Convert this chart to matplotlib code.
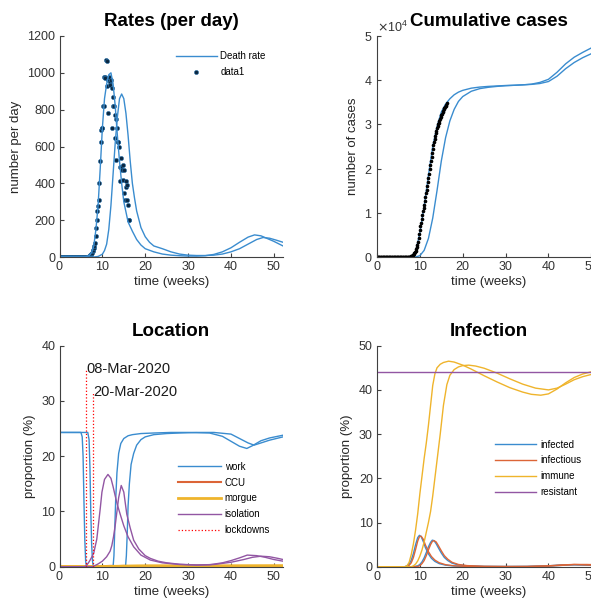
import numpy as np
import matplotlib
matplotlib.use('Agg')
import matplotlib.pyplot as plt
from matplotlib.ticker import ScalarFormatter

plt.rcParams['font.family'] = ['Liberation Sans', 'DejaVu Sans']

# colours (matlab-ish defaults, a bit lighter like the screenshot)
BLUE = '#3a8ccf'
ORANGE = '#dc6537'
YELLOW = '#efb42c'
PURPLE = '#9256a3'
AXC = '#404040'

T_END = 52.14

# ---- observed daily deaths, day 0..114 ----
deaths_daily = [0] * 45 + [
    0, 1, 2, 4, 6, 9, 13, 18, 22, 30,
    38, 50, 60, 75, 115, 160, 200, 250, 275, 400,
    310, 520, 626, 690, 700, 700, 820, 820, 980, 975,
    970, 1072, 1065, 930, 780, 962, 975, 950, 935, 960,
    700, 915, 870, 820, 820, 645, 770, 526, 750, 700,
    626, 626, 600, 490, 410, 490, 540, 470, 500, 420,
    470, 345, 310, 410, 380, 390, 310, 280, 200, 200]

# ---- observed cumulative deaths, day 0..114 ----
deaths_cum = [0] * 50 + [
    20, 35, 55, 80, 110, 150, 200, 275, 350, 465,
    625, 825, 1075, 1350, 1750, 2200, 2800, 3500, 4300, 5200,
    6100, 7000, 7800, 8700, 9500, 10300, 11000, 11800, 12700, 13600,
    14400, 15200, 16000, 16900, 17800, 18800, 19800, 20800, 21700, 22600,
    23500, 24400, 25300, 26000, 26700, 27400, 28000, 28600, 29100, 29600,
    30000, 30400, 30850, 31300, 31700, 32050, 32400, 32750, 33100, 33400,
    33700, 33950, 34200, 34500, 34770]

days_obs = np.arange(len(deaths_daily)) / 7.0

# ---- model: death rate ----
rate_t_a = [0, 5, 6, 7, 7.5, 8, 8.5, 9, 9.5, 10, 10.5, 11, 11.5, 12, 12.5, 13, 13.5, 14, 14.5, 15,
            16, 17, 18, 19, 20, 22, 24, 26, 28, 30, 32, 34, 36, 38, 40, 42, 44, 45.5, 47, 48, 50, T_END]
rate_a = [0, 0, 1, 8, 25, 60, 150, 280, 480, 700, 860, 940, 990, 1000, 940, 820, 660, 520, 400, 300,
          190, 140, 95, 65, 45, 28, 16, 10, 7, 5, 5, 7, 14, 28, 50, 80, 108, 120, 115, 105, 85, 60]
rate_t_b = [0, 8, 9, 10, 10.5, 11, 11.5, 12, 12.5, 13, 13.5, 14, 14.5, 15, 15.5, 16, 16.5, 17, 17.5, 18,
            19, 20, 21, 22, 24, 26, 28, 30, 32, 34, 36, 38, 40, 42, 44, 46, 47.5, 49, 50.5, T_END]
rate_b = [0, 0, 3, 15, 35, 70, 150, 280, 450, 620, 760, 860, 885, 860, 780, 660, 520, 400, 320, 250,
          160, 110, 80, 60, 45, 28, 16, 10, 8, 8, 10, 16, 28, 45, 70, 95, 106, 102, 92, 80]

# ---- model: cumulative ----
cum_t_a = [0, 7, 8, 9, 10, 11, 12, 13, 14, 15, 16, 17, 18, 19, 20, 22, 24, 26, 28, 30,
           32, 34, 36, 38, 40, 42, 44, 46, 48, 50, T_END]
cum_a = [0, 0, 100, 1200, 5500, 11500, 18500, 25000, 29500, 32800, 34600, 35800, 36700, 37300, 37700,
         38200, 38450, 38600, 38700, 38800, 38850, 38950, 39100, 39500, 40200, 41800, 43700, 45200,
         46300, 47300, 48200]
cum_t_b = [0, 9, 10, 11, 12, 13, 14, 15, 16, 17, 18, 19, 20, 22, 24, 26, 28, 30, 32, 34,
           36, 38, 40, 42, 44, 46, 48, 50, T_END]
cum_b = [0, 0, 300, 1500, 4200, 8800, 15000, 21700, 27000, 30800, 33400, 35200, 36300, 37500, 38100,
         38400, 38600, 38750, 38850, 38950, 39050, 39250, 39700, 40900, 42600, 44000, 45100, 46000, 46900]

# ---- location (%) ----
work_t_a = [0, 5.0, 5.3, 5.5, 5.7, 5.9, 6.1, 6.3, 12.5, 12.7, 12.9, 13.1, 13.4, 13.8, 14.3, 15, 16, 17,
            19, 22, 26, 30, 35, 38, 40, 42, 43.7, 45, 47, 49, T_END]
work_a = [24.3, 24.3, 23.5, 20, 12, 5, 1, 0, 0, 2, 7, 12, 17, 20.5, 22.3, 23.2, 23.7, 23.9,
          24.1, 24.2, 24.3, 24.3, 24.2, 23.6, 22.7, 21.8, 21.4, 21.9, 22.8, 23.3, 23.8]
work_t_b = [0, 6.6, 6.9, 7.1, 7.3, 7.5, 7.7, 7.9, 15.4, 15.6, 15.8, 16.0, 16.3, 16.7, 17.3, 18, 19, 20,
            22, 25, 28, 32, 36, 40, 42, 44, 45.4, 47, 49, T_END]
work_b = [24.3, 24.3, 23, 18, 10, 4, 1, 0, 0, 2, 6, 11, 15, 18.5, 20.5, 22, 23, 23.5,
          23.9, 24.1, 24.2, 24.3, 24.3, 24.0, 23.2, 22.4, 22.0, 22.4, 22.9, 23.5]

ccu_t_a = [0, 9, 10, 11, 12, 13, 14, 16, 18, T_END]
ccu_a = [0, 0, 0.05, 0.12, 0.15, 0.12, 0.08, 0.03, 0.01, 0.01]
ccu_t_b = [0, 12, 13, 14, 15, 16, 17, 19, 21, T_END]
ccu_b = [0, 0, 0.05, 0.12, 0.15, 0.12, 0.08, 0.03, 0.01, 0.01]

morgue_t_a = [0, 9, 11, 13, 15, 17, 20, 40, 45, T_END]
morgue_a = [0, 0, 0.03, 0.07, 0.1, 0.12, 0.13, 0.13, 0.14, 0.15]
morgue_t_b = [0, 12, 14, 16, 18, 20, 23, 40, 47, T_END]
morgue_b = [0, 0, 0.03, 0.07, 0.1, 0.12, 0.13, 0.13, 0.14, 0.15]

iso_t_a = [0, 5.8, 6.3, 7, 7.5, 8, 8.7, 9.5, 9.9, 10.5, 11.3, 12, 12.5, 13, 13.5, 14.2, 15, 16, 17.3,
           19, 21.2, 24, 28, 32, 35, 38, 40, 42, 43.8, 46, 48, 50, T_END]
iso_a = [0, 0, 0.2, 1, 1.7, 2.5, 5, 10.5, 13.5, 15.8, 16.7, 16.0, 14.5, 12.8, 11.2, 9.4, 7.4, 5.4, 3.6,
         2.1, 1.2, 0.7, 0.4, 0.3, 0.35, 0.7, 1.1, 1.6, 2.1, 2.0, 1.7, 1.3, 1.0]
iso_t_b = [0, 7.5, 8, 9, 10, 11, 11.8, 12.2, 12.6, 13, 13.4, 13.8, 14.4, 15, 15.7, 16.5, 17.3, 18.5,
           20, 21.2, 23, 25, 28, 32, 36, 40, 43, 45, 47, 49, 51, T_END]
iso_b = [0, 0, 0.1, 0.5, 1.0, 1.8, 2.8, 3.8, 5.4, 7.5, 10.0, 12.5, 14.7, 13.5, 9.5, 7.0, 4.8, 3.2,
         2.0, 1.5, 1.0, 0.7, 0.45, 0.3, 0.4, 0.8, 1.3, 1.7, 1.9, 1.8, 1.5, 1.3]

lockdown_weeks = [6.2, 7.9]
lockdown_tops = [35.7, 31.6]
lockdown_labels = ['08-Mar-2020', '20-Mar-2020']

# ---- infection (%) ----
inf_t_a = [0, 6.5, 7, 7.5, 8, 8.5, 9, 9.5, 9.9, 10.3, 10.8, 11.3, 12, 12.7, 13.5, 14.5, 16, 18, 20,
           25, 30, 35, 40, 43, 46, 49, T_END]
infected_a = [0, 0, 0.2, 0.6, 1.5, 3.0, 5.0, 6.6, 7.1, 6.8, 5.7, 4.3, 2.9, 1.9, 1.2, 0.7, 0.35, 0.15,
              0.08, 0.03, 0.03, 0.05, 0.2, 0.4, 0.45, 0.35, 0.25]
infectious_a = [0, 0, 0.05, 0.3, 0.9, 2.1, 3.9, 5.8, 6.8, 6.9, 6.2, 4.9, 3.4, 2.3, 1.5, 0.9, 0.45, 0.2,
                0.1, 0.04, 0.03, 0.05, 0.2, 0.4, 0.5, 0.4, 0.3]
inf_t_b = [0, 8.5, 9.5, 10, 10.5, 11, 11.5, 12, 12.5, 12.9, 13.3, 13.8, 14.3, 15, 15.7, 16.5, 17.5, 19,
           21, 25, 30, 35, 40, 43, 46, 49, T_END]
infected_b = [0, 0, 0.2, 0.5, 1.1, 2.0, 3.2, 4.5, 5.5, 6.0, 5.9, 5.2, 4.3, 3.1, 2.1, 1.4, 0.8, 0.4,
              0.2, 0.06, 0.03, 0.04, 0.15, 0.3, 0.45, 0.45, 0.35]
infectious_b = [0, 0, 0.05, 0.25, 0.7, 1.4, 2.5, 3.8, 5.0, 5.7, 5.9, 5.6, 4.8, 3.6, 2.5, 1.7, 1.0, 0.5,
                0.25, 0.08, 0.03, 0.04, 0.15, 0.3, 0.5, 0.5, 0.4]

imm_t_a = [0, 6.5, 7, 7.5, 8, 8.5, 9, 9.5, 10, 10.5, 11, 11.5, 12, 12.5, 13, 13.5, 14, 14.75, 15.5,
           16.7, 18, 20, 22, 25, 28, 31, 34, 36, 38.2, 40, 42, 44, 46, 48, 50, T_END]
immune_a = [0, 0, 0.2, 1, 2.8, 5.2, 8.3, 12, 16.5, 20.5, 24.5, 28, 32, 36.5, 41, 43.6, 45, 45.8, 46.2,
            46.5, 46.3, 45.6, 44.7, 43.2, 41.8, 40.5, 39.5, 39.0, 38.8, 39.1, 40.2, 41.6, 42.8, 43.6,
            44.1, 44.3]
imm_t_b = [0, 8, 8.5, 9, 9.5, 10, 10.5, 11, 11.5, 12, 12.5, 13, 13.5, 14, 14.75, 15.5, 16.3, 17, 18,
           19, 20, 21.4, 23, 25, 28, 31, 34, 37, 40, 42, 44, 46, 48, 50, T_END]
immune_b = [0, 0, 0.2, 0.6, 1.3, 2.4, 3.8, 5.6, 7.8, 10, 12.5, 16, 20, 24, 30, 36.5, 41.2, 43.3, 44.6,
            45.2, 45.5, 45.6, 45.4, 44.9, 43.8, 42.5, 41.3, 40.4, 40.0, 40.4, 41.3, 42.3, 43.0, 43.5,
            43.9]

res_t = [0, T_END]
resistant = [44.1, 44.1]


def style_axes(ax, ylim, yticks):
    ax.set_xlim(0, T_END)
    ax.set_ylim(*ylim)
    ax.set_xticks([0, 10, 20, 30, 40, 50])
    ax.set_yticks(yticks)
    for s in ['top', 'right']:
        ax.spines[s].set_visible(False)
    for s in ['left', 'bottom']:
        ax.spines[s].set_color(AXC)
        ax.spines[s].set_linewidth(0.8)
    ax.tick_params(direction='in', length=3, width=0.8, colors=AXC, labelsize=9,
                   labelcolor='#333333', pad=3)
    ax.set_xlabel('time (weeks)', fontsize=9.5, color='#262626', labelpad=2)


fig = plt.figure(figsize=(5.91, 6.07), dpi=100)
W = 223.5 / 591
H = 221 / 607
ax1 = fig.add_axes([59.5 / 591, (607 - 257) / 607, W, H])
ax2 = fig.add_axes([377 / 591, (607 - 257) / 607, W, H])
ax3 = fig.add_axes([59.5 / 591, (607 - 566.7) / 607, W, H])
ax4 = fig.add_axes([377 / 591, (607 - 566.7) / 607, W, H])

# rates
ax1.plot(days_obs, deaths_daily, 'o', ms=3.0, mfc='#0b2740', mec='#2b74ad', mew=0.4, label='data1')
ax1.plot(rate_t_a, rate_a, color=BLUE, lw=1.0, label='Death rate')
ax1.plot(rate_t_b, rate_b, color=BLUE, lw=1.0)
style_axes(ax1, (0, 1200), range(0, 1201, 200))
ax1.set_ylabel('number per day', fontsize=9.5, color='#262626')
ax1.set_title('Rates (per day)', fontsize=13.5, fontweight='bold', pad=7)
h, l = ax1.get_legend_handles_labels()
ax1.legend(h[::-1], l[::-1], loc='upper left', bbox_to_anchor=(0.52, 0.93), frameon=False, fontsize=7,
           handlelength=4.2, handletextpad=0.4, labelspacing=0.6, borderpad=0, borderaxespad=0)

# cumulative
ax2.plot(cum_t_a, cum_a, color=BLUE, lw=1.0)
ax2.plot(cum_t_b, cum_b, color=BLUE, lw=1.0)
ax2.plot(days_obs, deaths_cum, '.', color='black', ms=3.2)
style_axes(ax2, (0, 50000), range(0, 50001, 10000))
fmt = ScalarFormatter(useMathText=True)
fmt.set_powerlimits((0, 0))
ax2.yaxis.set_major_formatter(fmt)
ax2.yaxis.get_offset_text().set_fontsize(9)
ax2.yaxis.get_offset_text().set_color('#333333')
ax2.set_ylabel('number of cases', fontsize=9.5, color='#262626')
ax2.set_title('Cumulative cases', fontsize=13.5, fontweight='bold', pad=7)

# location
ax3.plot(work_t_a, work_a, color=BLUE, lw=1.0, label='work')
ax3.plot(work_t_b, work_b, color=BLUE, lw=1.0)
ax3.plot(ccu_t_a, ccu_a, color=ORANGE, lw=1.5, label='CCU')
ax3.plot(ccu_t_b, ccu_b, color=ORANGE, lw=1.5)
ax3.plot(morgue_t_a, morgue_a, color=YELLOW, lw=2.0, label='morgue')
ax3.plot(morgue_t_b, morgue_b, color=YELLOW, lw=2.0)
ax3.plot(iso_t_a, iso_a, color=PURPLE, lw=1.0, label='isolation')
ax3.plot(iso_t_b, iso_b, color=PURPLE, lw=1.0)
for i, (wk, top, lab) in enumerate(zip(lockdown_weeks, lockdown_tops, lockdown_labels)):
    ax3.plot([wk, wk], [0, top], ':', color='red', lw=0.9, label='lockdowns' if i == 0 else None)
    ax3.text(wk, top, lab, fontsize=10.5, ha='left', va='center', color='#1a1a1a')
style_axes(ax3, (0, 40), range(0, 41, 10))
ax3.set_ylabel('proportion (%)', fontsize=9.5, color='#262626')
ax3.set_title('Location', fontsize=13.5, fontweight='bold', pad=7)
ax3.legend(loc='upper left', bbox_to_anchor=(0.53, 0.475), frameon=False, fontsize=7,
           handlelength=4.4, handletextpad=0.4, labelspacing=0.6, borderpad=0, borderaxespad=0)

# infection
ax4.plot(inf_t_a, infected_a, color=BLUE, lw=1.0, label='infected')
ax4.plot(inf_t_b, infected_b, color=BLUE, lw=1.0)
ax4.plot(inf_t_a, infectious_a, color=ORANGE, lw=1.0, label='infectious')
ax4.plot(inf_t_b, infectious_b, color=ORANGE, lw=1.0)
ax4.plot(imm_t_a, immune_a, color=YELLOW, lw=1.0, label='immune')
ax4.plot(imm_t_b, immune_b, color=YELLOW, lw=1.0)
ax4.plot(res_t, resistant, color=PURPLE, lw=1.0, label='resistant')
style_axes(ax4, (0, 50), range(0, 51, 10))
ax4.set_ylabel('proportion (%)', fontsize=9.5, color='#262626')
ax4.set_title('Infection', fontsize=13.5, fontweight='bold', pad=7)
ax4.legend(loc='upper left', bbox_to_anchor=(0.53, 0.575), frameon=False, fontsize=7,
           handlelength=4.2, handletextpad=0.4, labelspacing=0.6, borderpad=0, borderaxespad=0)

fig.savefig('out.png', dpi=100)
